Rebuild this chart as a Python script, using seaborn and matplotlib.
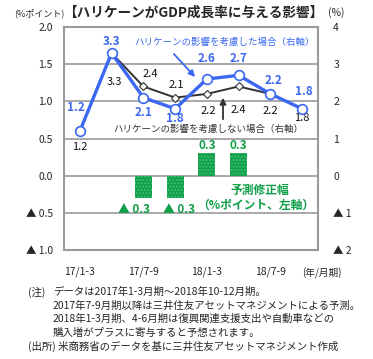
import numpy as np
import pandas as pd
import matplotlib
matplotlib.use("Agg")
import matplotlib.pyplot as plt
import seaborn as sns

sns.set_style("white")
plt.rcParams['font.family'] = ['Noto Sans CJK JP', 'DejaVu Sans']

# データ
quarters = ['17/1-3', '17/4-6', '17/7-9', '17/10-12', '18/1-3', '18/4-6', '18/7-9', '18/10-12']
with_hurricane = [1.2, 3.3, 2.1, 1.8, 2.6, 2.7, 2.2, 1.8]      # 右軸
without_hurricane = [1.2, 3.3, 2.4, 2.1, 2.2, 2.4, 2.2, 1.8]   # 右軸
revision = [0, 0, -0.3, -0.3, 0.3, 0.3, 0, 0]                  # 左軸
xtick_labels = ['17/1-3', '17/7-9', '18/1-3', '18/7-9']
left_ticks = [-1.0, -0.5, 0.0, 0.5, 1.0, 1.5, 2.0]
right_ticks = [-2, -1, 0, 1, 2, 3, 4]

BLUE = '#3b68f2'
DARK = '#333333'
GREEN = '#0f9f48'
GRID = '#9a9a9a'

W, H = 373, 359
fig = plt.figure(figsize=(W / 100, H / 100), dpi=100)
ax = fig.add_axes([64 / W, 1 - 250 / H, (318 - 64) / W, (250 - 27) / H])


def fp(x, y):
    # ピクセル座標 -> figure fraction
    return x / W, 1 - y / H


df = pd.DataFrame({'q': quarters, 'rev': revision})
sns.barplot(data=df, x='q', y='rev', ax=ax, color=GREEN, width=0.53,
            saturation=1, zorder=3)
for p in ax.patches:
    p.set_hatch('.....')
    p.set_edgecolor('#45bf74')
    p.set_linewidth(0)

ax.set_xlim(-0.5, 7.5)
ax.set_ylim(-1.0, 2.0)
ax.set_yticks(left_ticks)
ax.set_yticklabels([f'{v:.1f}' if v >= 0 else f'▲ {abs(v):.1f}' for v in left_ticks],
                   fontsize=7.5)
ax.set_xticks([0, 2, 4, 6])
ax.set_xticklabels(xtick_labels, fontsize=7.5)
ax.set_xticks(np.arange(0.5, 7, 1), minor=True)
ax.tick_params(axis='x', which='major', length=0, pad=12)
ax.tick_params(axis='x', which='minor', length=3, direction='in', color=GRID, width=1)
ax.tick_params(axis='y', length=0, pad=8)
ax.set_xlabel('')
ax.set_ylabel('')
ax.yaxis.grid(True, color=GRID, lw=1.2, zorder=0)
ax.set_axisbelow(True)
for s in ax.spines.values():
    s.set_color(GRID)
    s.set_linewidth(1.5)

# 棒グラフのラベル
for i, v in enumerate(revision):
    if v > 0:
        ax.annotate(f'{v:.1f}', (i, v), xytext=(0, 6), textcoords='offset points',
                    ha='center', va='center', color=GREEN, fontsize=8.5, fontweight='bold')
    elif v < 0:
        dx = -7 if i == 2 else 3
        ax.annotate(f'▲ {abs(v):.1f}', (i, v), xytext=(dx, -8), textcoords='offset points',
                    ha='center', va='center', color=GREEN, fontsize=8.5, fontweight='bold')

# 折れ線（右軸）
ax2 = ax.twinx()
pos = np.arange(len(quarters))
sns.lineplot(x=pos, y=without_hurricane, ax=ax2, color=DARK, lw=1.4, marker='D',
             markersize=4.3, markerfacecolor='white', markeredgecolor=DARK,
             markeredgewidth=0.8, zorder=4)
sns.lineplot(x=pos, y=with_hurricane, ax=ax2, color=BLUE, lw=2.4, marker='o',
             markersize=7, markerfacecolor='white', markeredgecolor=BLUE,
             markeredgewidth=1.2, zorder=5)
ax2.set_ylim(-2, 4)
ax2.set_yticks(right_ticks)
ax2.set_yticklabels([f'{v}' if v >= 0 else f'▲ {abs(v)}' for v in right_ticks], fontsize=7.5)
ax2.tick_params(axis='y', length=0, pad=11)
for s in ax2.spines.values():
    s.set_visible(False)

blue_off = [(-3, 17), (0, 8), (0, -11), (0, -7), (0, 15), (0, 12), (2, 9.5), (1, 12.5)]
dark_off = [(0, -11.5), (2, -21), (5, 9), (1, 9), (1, -12), (0, -17), (0, -12), (0, -7)]
for i in range(len(quarters)):
    ax2.annotate(f'{with_hurricane[i]:.1f}', (i, with_hurricane[i]), xytext=blue_off[i],
                 textcoords='offset points', ha='center', va='center',
                 color=BLUE, fontsize=8.5, fontweight='bold')
    ax2.annotate(f'{without_hurricane[i]:.1f}', (i, without_hurricane[i]), xytext=dark_off[i],
                 textcoords='offset points', ha='center', va='center',
                 color='#111111', fontsize=8)

# 凡例代わりの注記
fig.text(*fp(134, 42), 'ハリケーンの影響を考慮した場合（右軸）', color=BLUE,
         fontsize=6.8, ha='left', va='center')
ax2.annotate('', xy=fp(197, 79), xycoords='figure fraction', xytext=fp(172, 52),
             textcoords='figure fraction',
             arrowprops=dict(arrowstyle='-|>', color=BLUE, lw=1.3, mutation_scale=9))
fig.text(*fp(113, 129), 'ハリケーンの影響を考慮しない場合（右軸）', color=DARK,
         fontsize=6.8, ha='left', va='center')
ax2.annotate('', xy=fp(223, 95), xycoords='figure fraction', xytext=fp(223, 122),
             textcoords='figure fraction',
             arrowprops=dict(arrowstyle='-|>', color=DARK, lw=1.3, mutation_scale=9))
fig.text(*fp(260, 190), '予測修正幅', color=GREEN, fontsize=8.5,
         fontweight='bold', ha='center', va='center')
fig.text(*fp(256, 205), '（%ポイント、左軸）', color=GREEN, fontsize=8.5,
         fontweight='bold', ha='center', va='center')

# タイトルと単位
fig.text(*fp(14, 13), '(%ポイント)', fontsize=6.5, ha='left', va='center')
fig.text(*fp(193, 13), '【ハリケーンがGDP成長率に与える影響】', fontsize=9.8,
         fontweight='bold', ha='center', va='center')
fig.text(*fp(336, 13), '(%)', fontsize=7.5, ha='center', va='center')
fig.text(*fp(322, 273), '(年/月期)', fontsize=7, ha='center', va='center')

# 注記
notes = ['データは2017年1-3月期～2018年10-12月期。',
         '2017年7-9月期以降は三井住友アセットマネジメントによる予測。',
         '2018年1-3月期、4-6月期は復興関連支援支出や自動車などの',
         '購入増がプラスに寄与すると予想されます。']
ys = [292, 306, 319, 333]
fig.text(*fp(28, 292), '(注)', fontsize=7.5, ha='left', va='center')
for t, y in zip(notes, ys):
    fig.text(*fp(53, y), t, fontsize=7.5, ha='left', va='center')
fig.text(*fp(28, 346), '(出所) 米商務省のデータを基に三井住友アセットマネジメント作成',
         fontsize=7.5, ha='left', va='center')

fig.savefig('out.png', dpi=100)
